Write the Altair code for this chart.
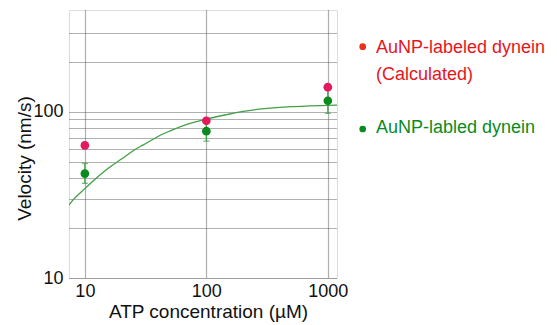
import altair as alt
import pandas as pd

# ATP concentration (uM)
atp = [10, 100, 1000]
# AuNP-labeled dynein (Calculated) velocities (nm/s)
calc_v = [62.8, 88.3, 140.8]
# AuNP-labled dynein velocities (nm/s) and error range
meas_v = [42.5, 76.5, 116.5]
meas_lo = [37.1, 66.6, 97.8]
meas_hi = [48.9, 87.8, 139.0]
# fitted curve, values
curve_x = [7.4, 8, 10, 12, 15, 20, 26.5, 30, 41, 50, 70, 100, 150, 200, 300, 500, 700, 1000, 1190]
curve_y = [27.5, 29.5, 34.5, 39, 44.8, 52, 60, 63, 71.8, 76.6, 84.2, 90.5, 96.5, 100.5, 104.5, 107.5, 108.5, 109.3, 109.7]

y_grid = [10, 20, 30, 40, 50, 60, 70, 80, 90, 100, 200, 300]
x_ticks = [10, 100, 1000]

FONT = "Liberation Sans"
RED_PT = "#e3195c"
GREEN_PT = "#0b8a1e"
GREEN_LINE = "#3fa045"

pts = pd.DataFrame({"atp": atp, "calc": calc_v, "meas": meas_v, "lo": meas_lo, "hi": meas_hi})
curve = pd.DataFrame({"atp": curve_x, "v": curve_y})

xscale = alt.Scale(type="log", domain=[7.4, 1190], nice=False)
yscale = alt.Scale(type="log", domain=[10, 410], nice=False)

xaxis = alt.Axis(values=x_ticks, title="ATP concentration (µM)", grid=True, ticks=False, domain=False,
                 format="d",
                 labelFontSize=18, titleFontSize=19, labelPadding=4, labelFont=FONT, titleFont=FONT,
                 labelColor="#111", titleColor="#111", titleFontWeight="normal",
                 gridColor="#444", gridDash=[1, 1], gridWidth=1.2, gridOpacity=0.85,
                 titleX=139, titleY=33, titleBaseline="middle", labelFlush=False, labelOverlap=False)
yaxis = alt.Axis(values=y_grid, title="Velocity (nm/s)", grid=True, ticks=False, domain=False,
                 labelExpr="datum.value == 10 || datum.value == 100 ? datum.label : ''",
                 labelFontSize=18, titleFontSize=19, labelPadding=6, labelFont=FONT, titleFont=FONT,
                 labelColor="#111", titleColor="#111", titleFontWeight="normal",
                 gridColor="#444", gridDash=[1, 1], gridWidth=1.2, gridOpacity=0.85,
                 titleX=-45, titleY=148, titleBaseline="middle", labelFlush=False, labelOverlap=False)

base = alt.Chart(pts)

line = alt.Chart(curve).mark_line(color=GREEN_LINE, strokeWidth=1.3, interpolate="monotone", clip=True).encode(
    x=alt.X("atp:Q", scale=xscale, axis=xaxis),
    y=alt.Y("v:Q", scale=yscale, axis=yaxis),
)

err = base.mark_rule(color=GREEN_LINE, strokeWidth=1.3).encode(
    x=alt.X("atp:Q", scale=xscale), y=alt.Y("lo:Q", scale=yscale), y2="hi:Q")
cap_lo = base.mark_tick(color=GREEN_LINE, orient="horizontal", size=6, thickness=1.3).encode(
    x=alt.X("atp:Q", scale=xscale), y=alt.Y("lo:Q", scale=yscale))
cap_hi = base.mark_tick(color=GREEN_LINE, orient="horizontal", size=6, thickness=1.3).encode(
    x=alt.X("atp:Q", scale=xscale), y=alt.Y("hi:Q", scale=yscale))

red = base.mark_point(filled=True, size=75, color=RED_PT, opacity=1).encode(
    x=alt.X("atp:Q", scale=xscale), y=alt.Y("calc:Q", scale=yscale))
green = base.mark_point(filled=True, size=75, color=GREEN_PT, opacity=1).encode(
    x=alt.X("atp:Q", scale=xscale), y=alt.Y("meas:Q", scale=yscale))

# legend
leg_dot_r = alt.Chart(pts).transform_filter("datum.atp == 10").mark_point(
    filled=True, size=45, color="#e8301a", opacity=1).encode(x=alt.value(293.7), y=alt.value(36.7))
leg_dot_g = alt.Chart(pts).transform_filter("datum.atp == 10").mark_point(
    filled=True, size=45, color="#0a8a1e", opacity=1).encode(x=alt.value(293.7), y=alt.value(119))
leg_txt_r = alt.Chart(pts).transform_filter("datum.atp == 10").mark_text(
    align="left", baseline="middle", font=FONT, fontSize=18, color="#e8141c",
    lineHeight=27.5, text=["AuNP-labeled dynein", "(Calculated)"]).encode(
    x=alt.value(307), y=alt.value(37.5))
leg_txt_g = alt.Chart(pts).transform_filter("datum.atp == 10").mark_text(
    align="left", baseline="middle", font=FONT, fontSize=18, color="#0a8a1e",
    text="AuNP-labled dynein").encode(x=alt.value(307), y=alt.value(118))

chart = alt.layer(line, err, cap_lo, cap_hi, red, green,
                  leg_dot_r, leg_dot_g, leg_txt_r, leg_txt_g).properties(
    width=268, height=268,
    autosize=alt.AutoSizeParams(type="none"),
    padding={"left": 61, "top": 2, "right": 212, "bottom": 47},
).configure_view(stroke="#444", strokeWidth=1.5).configure(background="white")

chart.save("out.html", embed_options={"renderer": "svg", "actions": False})
